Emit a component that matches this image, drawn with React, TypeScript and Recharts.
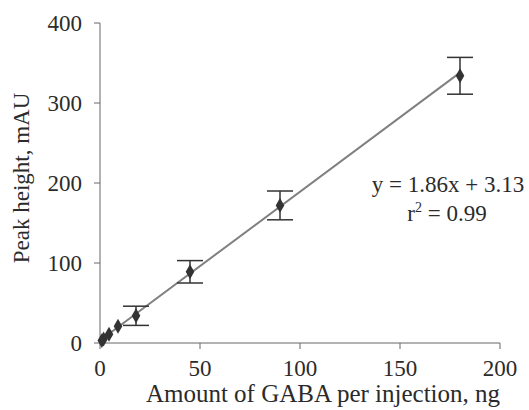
import React from "react";
import { ScatterChart, Scatter, XAxis, YAxis, ZAxis, ErrorBar, ReferenceLine } from "recharts";

// amount of GABA per injection (ng) vs peak height (mAU)
const amounts = [0.9, 1.8, 4.5, 9, 18, 45, 90, 180];
const peaks = [3, 5, 11, 21, 34, 89, 172, 334];
const errors = [0, 0, 0, 0, 12, 14, 18, 23];

const xTicks = [0, 50, 100, 150, 200];
const yTicks = [0, 100, 200, 300, 400];

// fitted line endpoints as drawn
const fitX = [0, 180];
const fitY = [3.1, 338];

const data = amounts.map((x, i) => ({ x, y: peaks[i], err: errors[i] }));

const font = '"Liberation Serif", "DejaVu Serif", serif';
const ink = "#2b2b2b";

export default function App() {
  return (
    <div style={{ position: "absolute", left: 0, top: 0, width: 529, height: 410, background: "#fff", fontFamily: font }}>
      <ScatterChart width={529} height={410} margin={{ top: 23, right: 29, left: 0, bottom: 0 }}>
        <XAxis
          type="number"
          dataKey="x"
          domain={[0, 200]}
          ticks={xTicks}
          height={67}
          tickSize={6}
          tickMargin={11}
          stroke="#666"
          tick={{ fill: ink, fontSize: 23, fontFamily: font }}
        />
        <YAxis
          type="number"
          dataKey="y"
          domain={[0, 400]}
          ticks={yTicks}
          width={100}
          tickSize={6}
          tickMargin={12}
          stroke="#666"
          tick={{ fill: ink, fontSize: 23, fontFamily: font }}
        />
        <ZAxis range={[110, 110]} />
        <ReferenceLine
          segment={[
            { x: fitX[0], y: fitY[0] },
            { x: fitX[1], y: fitY[1] },
          ]}
          stroke="#808080"
          strokeWidth={2}
        />
        <Scatter data={data} shape="diamond" fill="#333" isAnimationActive={false}>
          <ErrorBar dataKey="err" direction="y" width={13} stroke="#333" strokeWidth={1.5} isAnimationActive={false} />
        </Scatter>
      </ScatterChart>
      <svg width={529} height={410} style={{ position: "absolute", left: 0, top: 0, pointerEvents: "none" }}>
        <g style={{ fontFamily: font }} fontSize={23} fill={ink}>
          <text x={323} y={402} textAnchor="middle" fontSize={25}>
            Amount of GABA per injection, ng
          </text>
          <text x={29} y={178} textAnchor="middle" transform="rotate(-90 29 178)">Peak height, mAU</text>
          <text x={448} y={192} textAnchor="middle">y = 1.86x + 3.13</text>
          <text x={447} y={221} textAnchor="middle">
            r<tspan fontSize={14} dy={-9}>2</tspan>
            <tspan dy={9}> = 0.99</tspan>
          </text>
        </g>
      </svg>
    </div>
  );
}
